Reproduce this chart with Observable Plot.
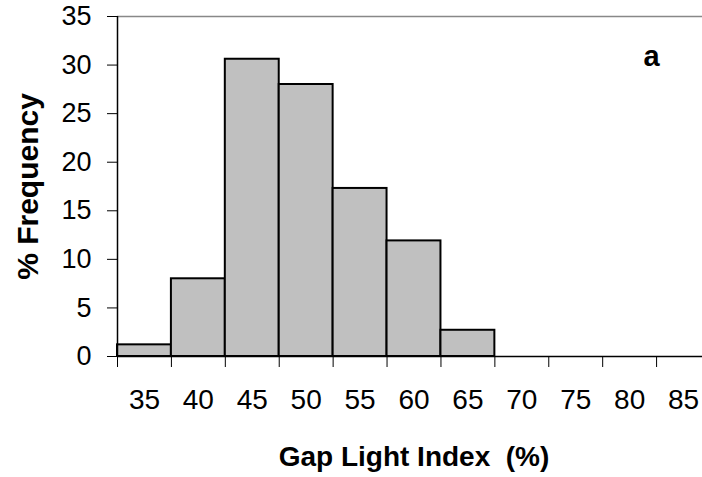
<!DOCTYPE html>
<html>
<head>
<meta charset="utf-8">
<script src="https://cdn.jsdelivr.net/npm/d3@7"></script>
<script src="https://cdn.jsdelivr.net/npm/@observablehq/plot@0.6"></script>
<style>
  html, body { margin: 0; padding: 0; background: #fff; overflow: hidden; }
</style>
</head>
<body>
<div id="chart"></div>
<script>
// Data
const categories = [35, 40, 45, 50, 55, 60, 65, 70, 75, 80, 85];
const frequency  = [1.2, 8.0, 30.6, 28.0, 17.3, 11.9, 2.7, 0, 0, 0, 0];
const yTicks = [0, 5, 10, 15, 20, 25, 30, 35];
const xTitle = "Gap Light Index  (%)";
const yTitle = "% Frequency";
const panelLabel = "a";

const binWidth = categories[1] - categories[0];
const data = categories.map((c, i) => ({c, v: frequency[i]}));
const boundaries = categories.map(c => c - binWidth / 2).concat([categories[categories.length - 1] + binWidth / 2]);
const xDomain = [boundaries[0], boundaries[boundaries.length - 1]];
const yMax = yTicks[yTicks.length - 1];

const font = "'Liberation Sans', Arial, sans-serif";

const chart = Plot.plot({
  width: 702,
  height: 477,
  marginTop: 16,
  marginBottom: 121,
  marginLeft: 117,
  marginRight: -8,
  style: {fontFamily: font, color: "#000", background: "#fff", overflow: "hidden"},
  x: {domain: xDomain, type: "linear"},
  y: {domain: [0, yMax]},
  marks: [
    Plot.ruleY([yMax], {stroke: "#888", strokeWidth: 1.5}),
    Plot.rectY(data.filter(d => d.v > 0), {
      x1: d => d.c - binWidth / 2,
      x2: d => d.c + binWidth / 2,
      y: "v",
      fill: "#c0c0c0",
      stroke: "#000",
      strokeWidth: 2
    }),
    Plot.ruleY([0], {stroke: "#000", strokeWidth: 1.5}),
    Plot.ruleX([xDomain[0]], {y1: 0, y2: yMax, stroke: "#000", strokeWidth: 1.5}),
    Plot.axisY({ticks: yTicks, tickSize: 10, tickPadding: 16, fontSize: 27, label: null, tickFormat: d => String(d)}),
    Plot.axisX({ticks: boundaries, tickSize: 11, tickFormat: () => "", label: null}),
    Plot.axisX({ticks: categories, tickSize: 0, tickPadding: 33, fontSize: 28, label: null, tickFormat: d => String(d)}),
    Plot.text([yTitle], {frameAnchor: "left", dx: -89, rotate: -90, fontSize: 30, fontWeight: "bold", fill: "#000", lineAnchor: "middle", textAnchor: "middle"}),
    Plot.text([xTitle], {frameAnchor: "bottom", dy: 109, lineAnchor: "bottom", fontSize: 28, fontWeight: "bold", fill: "#000", textAnchor: "middle"}),
    Plot.text([panelLabel], {frameAnchor: "top-right", dx: -59, dy: 49, lineAnchor: "bottom", textAnchor: "middle", fontSize: 29, fontWeight: "bold", fill: "#000"})
  ]
});
document.getElementById("chart").appendChild(chart);
</script>
</body>
</html>
